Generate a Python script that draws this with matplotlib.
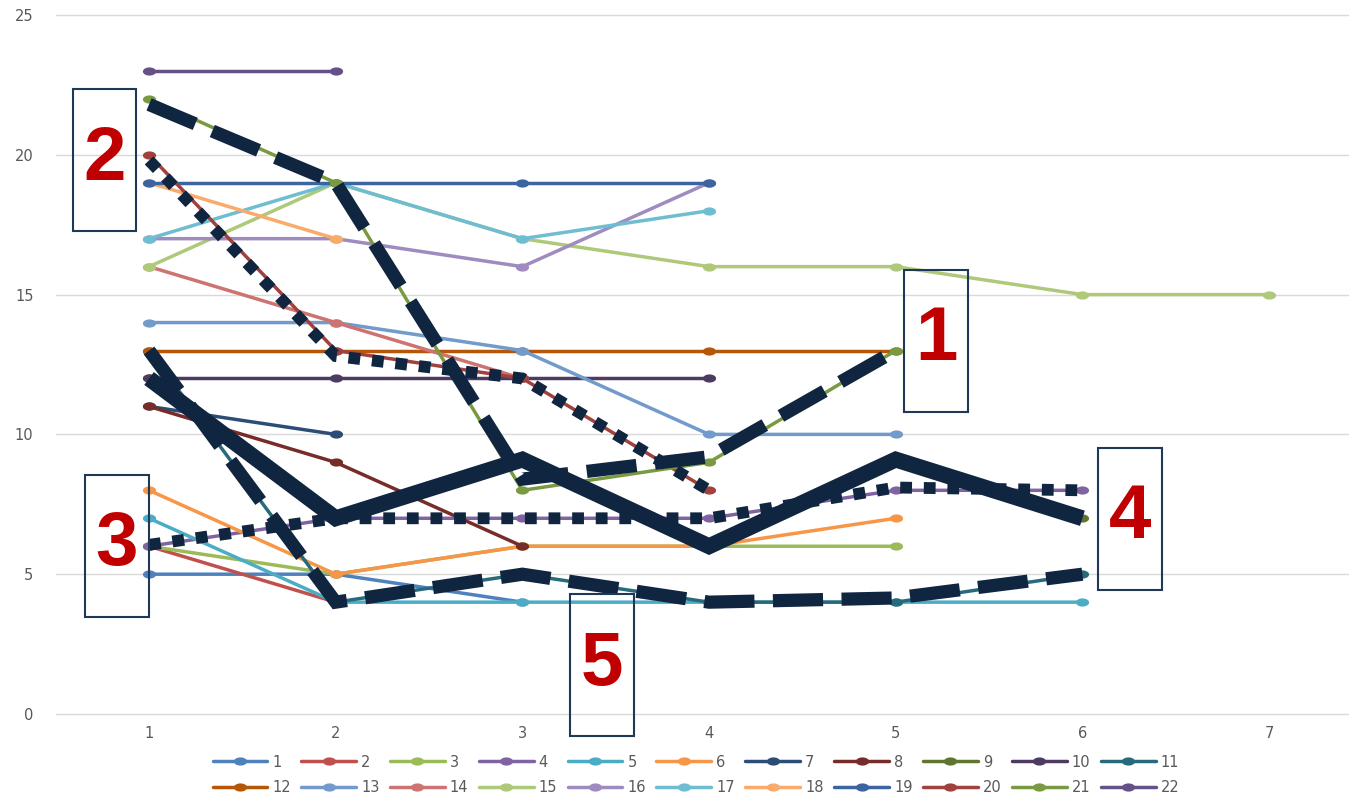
import numpy as np
import matplotlib
matplotlib.use("Agg")
import matplotlib.pyplot as plt
from matplotlib.path import Path
from matplotlib.patches import Rectangle

# ---------------- data ----------------
categories = [1, 2, 3, 4, 5, 6, 7]
s1 = [5, 5, 4]
s2 = [6, 4]
s3 = [6, 5, 6, 6, 6]
s4 = [6, 7, 7, 7, 8, 8]
s5 = [7, 4, 4, 4, 4, 4]
s6 = [8, 5, 6, 6, 7]
s7 = [11, 10]
s8 = [11, 9, 6]
s9 = [12, 7, 9, 6, 9, 7]
s10 = [12, 12, 12, 12]
s11 = [13, 4, 5, 4, 4, 5]
s12 = [13, 13, 13, 13, 13]
s13 = [14, 14, 13, 10, 10]
s14 = [16, 14, 12]
s15 = [16, 19, 17, 16, 16, 15, 15]
s16 = [17, 17, 16, 19]
s17 = [17, 19, 17, 18]
s18 = [19, 17]
s19 = [19, 19, 19, 19]
s20 = [20, 13, 12, 8]
s21 = [22, 19, 8, 9, 13]
s22 = [23, 23]
series = [s1, s2, s3, s4, s5, s6, s7, s8, s9, s10, s11,
          s12, s13, s14, s15, s16, s17, s18, s19, s20, s21, s22]
series_labels = [str(i) for i in range(1, 23)]

# highlighted paths drawn over the chart
path1 = [21.8, 19, 8.4, 9.2, 13]      # long dashes
path2 = [19.8, 12.8, 12, 8]           # square dots
path3 = [12, 7, 9.1, 6, 9.1, 7]       # solid
path4 = [6.05, 7, 7, 7, 8.1, 8]       # square dots
path5 = [13, 4, 5, 4, 4.15, 5]        # long dashes

box_labels = ["1", "2", "3", "4", "5"]
yticks = [0, 5, 10, 15, 20, 25]

colors = ["#4F81BD", "#C0504D", "#9BBB59", "#8064A2", "#4BACC6", "#F79646",
          "#2C4D75", "#772C2A", "#5F7530", "#4D3B62", "#276A7C", "#B65708",
          "#729ACA", "#CD7371", "#AFC97A", "#A08BC0", "#6FBDD1", "#F9AB6B",
          "#3B64A0", "#A0413D", "#7A9A41", "#655088"]

# ---------------- figure ----------------
W, H = 1349, 799
fig = plt.figure(figsize=(W / 100, H / 100), dpi=100)
ax_left, ax_right = 55.7, 1362.4
ax_top, ax_bot = 15, 714
ax = fig.add_axes([ax_left / W, (H - ax_bot) / H,
                   (ax_right - ax_left) / W, (ax_bot - ax_top) / H])
ax.set_xlim(0.5, 7.5)
ax.set_ylim(0, 25)

theta = np.linspace(0, 2 * np.pi, 48)
ell = Path(np.c_[np.cos(theta), 0.62 * np.sin(theta)], closed=True)

handles = []
for i, (vals, c) in enumerate(zip(series, colors)):
    xs = categories[:len(vals)]
    h, = ax.plot(xs, vals, color=c, lw=2.5, marker=ell, ms=9.5, mew=0,
                 solid_capstyle="round", solid_joinstyle="round",
                 label=series_labels[i], zorder=2 + i * 0.01)
    handles.append(h)

navy = "#10253F"
def overlay(vals, lw, dashes=None, cap="butt"):
    xs = categories[:len(vals)]
    ln, = ax.plot(xs, vals, color=navy, lw=lw, zorder=5,
                  solid_joinstyle="miter", dash_joinstyle="miter",
                  dash_capstyle=cap, solid_capstyle="butt")
    if dashes is not None:
        ln.set_dashes(dashes)

overlay(path1, 9.5, (3.8, 1.4))
overlay(path5, 9.5, (3.8, 1.4))
overlay(path2, 8.5, (1.0, 1.0))
overlay(path4, 8.5, (1.0, 1.0))
overlay(path3, 11.5)

# ---------------- numbered boxes ----------------
def px2data(px, py):
    x = 0.5 + (px - ax_left) / (ax_right - ax_left) * 7
    y = (ax_bot - py) / (ax_bot - ax_top) * 25
    return x, y

box_px = {"2": (73, 89, 136, 231), "1": (904, 270, 968, 412),
          "3": (85, 475, 149, 617), "4": (1098, 448, 1162, 590),
          "5": (570, 594, 634, 736)}
for lab in box_labels:
    x0p, y0p, x1p, y1p = box_px[lab]
    x0, y1 = px2data(x0p, y0p)
    x1, y0 = px2data(x1p, y1p)
    ax.add_patch(Rectangle((x0, y0), x1 - x0, y1 - y0, fill=False,
                           ec="#1F3856", lw=1.5, zorder=6, clip_on=False))
    ax.text((x0 + x1) / 2, (y0 + y1) / 2, lab, color="#C00000",
            fontsize=55, fontweight="bold", family="Liberation Sans",
            ha="center", va="center", zorder=7, clip_on=False)

# ---------------- axes styling ----------------
ax.set_yticks(yticks)
ax.set_xticks(categories)
ax.grid(axis="y", color="#D9D9D9", lw=1.0)
ax.set_axisbelow(True)
for gl in ax.get_ygridlines():
    gl.set_clip_on(False)
for s in ax.spines.values():
    s.set_visible(False)
ax.tick_params(axis="both", length=0, labelsize=10.5, labelcolor="#595959")
ax.tick_params(axis="y", pad=16)
ax.tick_params(axis="x", pad=9)

# legend: row-major order (1..11 on the first row, 12..22 on the second)
order = []
for c in range(11):
    order += [c, c + 11]
leg = fig.legend([handles[i] for i in order], [series_labels[i] for i in order],
                 ncol=11, loc="center", bbox_to_anchor=(696 / W, 1 - 775 / H),
                 frameon=False, fontsize=10.5, handlelength=3.75, handletextpad=0.35,
                 columnspacing=0.72, labelspacing=0.75, numpoints=1,
                 borderaxespad=0, borderpad=0)
for t in leg.get_texts():
    t.set_color("#595959")

fig.savefig("out.png", dpi=100)
